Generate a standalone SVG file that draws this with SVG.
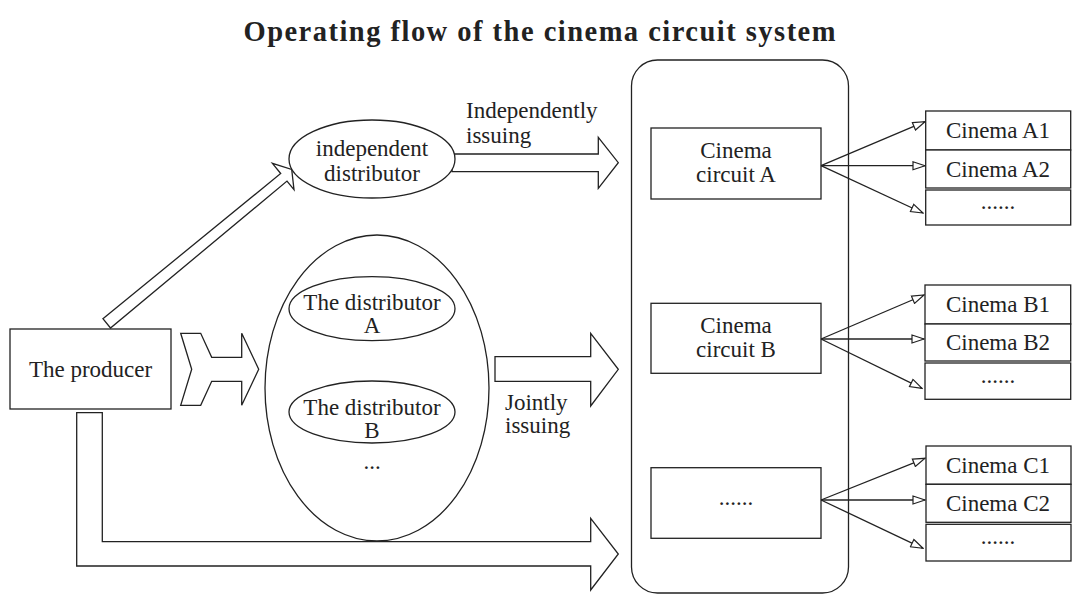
<svg xmlns="http://www.w3.org/2000/svg" width="1072" height="594" viewBox="0 0 1072 594">
<defs>
<marker id="tri" viewBox="0 0 14 10" refX="13" refY="5" markerWidth="14" markerHeight="10" markerUnits="userSpaceOnUse" orient="auto">
<path d="M1,1 L13,5 L1,9 Z" fill="#fff" stroke="#222" stroke-width="1.2"/>
</marker>
</defs>
<style>
.s{fill:#fff;stroke:#222;stroke-width:1.3}
.t{font-family:"Liberation Serif","Times New Roman",serif;font-size:23px;fill:#222;text-anchor:middle}
.l{font-family:"Liberation Serif","Times New Roman",serif;font-size:23px;fill:#222}
.c{fill:none;stroke:#222;stroke-width:1.3}
</style>
<rect width="1072" height="594" fill="#fff"/>
<text x="539.5" y="41" font-family="Liberation Serif,'Times New Roman',serif" font-weight="bold" font-size="28.5" fill="#222" text-anchor="middle" textLength="592" lengthAdjust="spacing">Operating flow of the cinema circuit system</text>

<g id="distributor-group">
<ellipse class="s" cx="377" cy="388" rx="112" ry="153"/>
<ellipse class="s" cx="372" cy="308.7" rx="83" ry="32"/>
<text class="t" x="372" y="310">The distributor</text>
<text class="t" x="372" y="333">A</text>
<ellipse class="s" cx="372" cy="412" rx="83" ry="31"/>
<text class="t" x="372" y="415">The distributor</text>
<text class="t" x="372" y="438">B</text>
<text class="t" x="372" y="469">...</text>
</g>

<g id="connectors">
<polygon class="s" points="102.9,318.7 280.7,173.5 272.4,163.3 291.7,169.5 294,189.7 287,181.1 110.5,328"/>
<polygon class="s" points="452,154 598.3,154 598.3,137.3 618.3,162.7 598.3,188.3 598.3,171.7 452,171.7"/>
<polygon class="s" points="180.7,333.3 200.7,333.3 211.7,357.3 241.7,357.3 241.7,333.3 258.7,369.3 241.7,405.3 241.7,381.3 211.7,381.3 200.7,405.3 180.7,405.3 191.7,369.3"/>
<polygon class="s" points="495,356.7 590.7,356.7 590.7,333.3 618.3,369.3 590.7,406 590.7,381.3 495,381.3"/>
<polygon class="s" points="76.7,412.7 102.3,412.7 102.3,541.7 590.7,541.7 590.7,518.3 618.3,554 590.7,590 590.7,566 76.7,566"/>
<text class="l" x="466" y="118">Independently</text>
<text class="l" x="466" y="143">issuing</text>
<text class="l" x="505" y="410">Jointly</text>
<text class="l" x="505" y="433">issuing</text>
</g>

<g id="producer">
<rect class="s" x="10" y="329" width="161" height="80"/>
<text class="t" x="90.5" y="377">The producer</text>
</g>

<g id="independent-distributor">
<ellipse class="s" cx="372" cy="159" rx="83" ry="39"/>
<text class="t" x="372" y="156">independent</text>
<text class="t" x="372" y="181">distributor</text>
</g>

<g id="circuit-system">
<rect class="s" x="631.5" y="60" width="217" height="533" rx="26" ry="26"/>
</g>

<g id="circuit-a">
<rect class="s" x="651" y="128" width="170" height="71"/>
<text class="t" x="736" y="158">Cinema</text>
<text class="t" x="736" y="182">circuit A</text>
</g>
<g id="circuit-b">
<rect class="s" x="651" y="303.3" width="170" height="70"/>
<text class="t" x="736" y="333">Cinema</text>
<text class="t" x="736" y="357">circuit B</text>
</g>
<g id="circuit-c">
<rect class="s" x="651" y="467.7" width="170" height="70.6"/>
<text class="t" x="736" y="505">......</text>
</g>

<g id="fan-connectors">
<line class="c" x1="821" y1="165.7" x2="925" y2="121.7" marker-end="url(#tri)"/>
<line class="c" x1="821" y1="165.7" x2="925" y2="165.7" marker-end="url(#tri)"/>
<line class="c" x1="821" y1="165.7" x2="923" y2="213" marker-end="url(#tri)"/>
<line class="c" x1="821" y1="339" x2="924" y2="295" marker-end="url(#tri)"/>
<line class="c" x1="821" y1="339" x2="924" y2="339" marker-end="url(#tri)"/>
<line class="c" x1="821" y1="339" x2="922" y2="388.3" marker-end="url(#tri)"/>
<line class="c" x1="821" y1="500" x2="925" y2="458.3" marker-end="url(#tri)"/>
<line class="c" x1="821" y1="500" x2="925" y2="500" marker-end="url(#tri)"/>
<line class="c" x1="821" y1="500" x2="923" y2="548.3" marker-end="url(#tri)"/>
</g>

<g id="cinemas-a">
<rect class="s" x="925.7" y="111" width="145" height="39"/>
<text class="t" x="998" y="138">Cinema A1</text>
<rect class="s" x="925.7" y="150" width="145" height="38"/>
<text class="t" x="998" y="176.5">Cinema A2</text>
<rect class="s" x="925.7" y="190" width="145" height="35"/>
<text class="t" x="998" y="209">......</text>
</g>
<g id="cinemas-b">
<rect class="s" x="925" y="285" width="145.7" height="39"/>
<text class="t" x="998" y="312">Cinema B1</text>
<rect class="s" x="925" y="324" width="145.7" height="37"/>
<text class="t" x="998" y="350">Cinema B2</text>
<rect class="s" x="925" y="363" width="145.7" height="36.3"/>
<text class="t" x="998" y="383">......</text>
</g>
<g id="cinemas-c">
<rect class="s" x="926" y="446" width="145" height="38.3"/>
<text class="t" x="998" y="472.5">Cinema C1</text>
<rect class="s" x="926" y="484.3" width="145" height="38"/>
<text class="t" x="998" y="511">Cinema C2</text>
<rect class="s" x="926" y="524.3" width="145" height="36.7"/>
<text class="t" x="998" y="544">......</text>
</g>
</svg>
